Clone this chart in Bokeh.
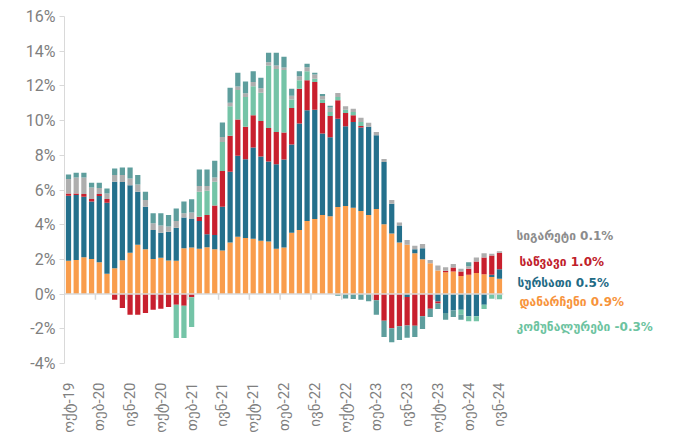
import math
from bokeh.plotting import figure
from bokeh.models import ColumnDataSource, FixedTicker, Range1d
from bokeh.core.properties import value
from bokeh.embed import file_html
from bokeh.resources import INLINE

# ---------------- data (percentage-point contributions) ----------------
month_names = ["იან", "თებ", "მარ", "აპრ", "მაი", "ივნ", "ივლ", "აგვ", "სექ", "ოქტ", "ნოე", "დეკ"]
start_year, start_month = 2019, 10
n_months = 57

others = [1.92, 1.97, 2.13, 2.03, 1.84, 1.17, 1.49, 1.95, 2.38, 2.84, 2.59, 2.03, 2.09, 1.93, 1.92,
          2.64, 2.68, 2.61, 2.70, 2.59, 2.51, 2.97, 3.31, 3.24, 3.19, 3.07, 3.03, 2.61, 2.68, 3.54,
          3.70, 4.21, 4.33, 4.56, 4.48, 5.02, 5.08, 4.98, 4.79, 4.56, 4.90, 4.02, 3.49, 2.97, 2.84,
          2.36, 2.01, 1.78, 1.36, 1.26, 1.30, 1.05, 1.11, 1.21, 1.15, 0.98, 0.88]
food = [3.75, 3.74, 3.48, 3.31, 3.81, 4.10, 4.99, 4.51, 3.90, 3.06, 2.45, 1.67, 1.45, 1.67, 1.91,
        1.77, 1.65, 1.60, 0.75, 0.82, 2.53, 4.08, 4.66, 4.53, 5.26, 4.86, 4.61, 4.88, 5.08, 5.08,
        6.13, 6.38, 6.30, 4.69, 4.56, 5.09, 4.59, 4.94, 4.81, 5.08, 4.26, 3.60, 1.72, 0.98, -0.17,
        0.23, 0.63, 0.00, -0.42, -1.09, -0.94, -0.90, -1.28, -1.28, -0.61, 0.13, 0.55]
fuel = [0.13, 0.09, 0.16, 0.14, 0.12, 0.21, -0.33, -0.80, -1.19, -1.19, -1.09, -0.90, -0.84, -0.75, -0.61,
        -0.67, -0.18, 0.25, 1.11, 1.69, 2.05, 2.07, 2.09, 1.87, 1.86, 2.04, 1.94, 1.86, 1.55, 2.11,
        2.01, 1.73, 1.59, 1.77, 1.23, 1.06, 0.77, 0.39, 0.09, 0.00, -0.36, -1.53, -1.97, -1.86, -1.64,
        -1.82, -1.28, -0.84, -0.12, 0.08, 0.23, 0.25, 0.35, 0.67, 0.96, 1.11, 0.95]
utilities = [0.00, 0.00, 0.00, 0.00, 0.00, 0.00, 0.00, 0.00, 0.00, 0.00, 0.00, 0.00, 0.00, 0.00, -1.92,
             -1.86, -1.72, 1.44, 1.40, 1.38, 1.68, 1.70, 1.70, 1.72, 1.67, 1.64, 3.60, 3.62, 3.60, 0.48,
             0.48, 0.52, 0.19, 0.19, 0.23, 0.19, 0.19, 0.19, 0.23, 0.00, 0.00, 0.00, 0.00, 0.00, 0.00,
             0.00, 0.00, 0.00, 0.00, 0.00, 0.00, -0.29, -0.29, -0.29, -0.25, -0.27, -0.30]
cigarettes = [0.83, 0.92, 0.95, 0.67, 0.34, 0.32, 0.38, 0.40, 0.39, 0.42, 0.38, 0.38, 0.41, 0.29, 0.38,
              0.25, 0.38, 0.33, 0.27, 0.24, 0.29, 0.21, 0.21, 0.21, 0.24, 0.25, 0.19, 0.21, 0.15, 0.22,
              0.23, 0.24, 0.25, 0.21, 0.25, 0.23, 0.19, 0.19, 0.25, 0.23, 0.19, 0.16, 0.21, 0.17, 0.28,
              0.19, 0.25, 0.19, 0.29, 0.21, 0.21, 0.16, 0.14, 0.23, 0.25, 0.10, 0.09]
other_items = [0.27, 0.27, 0.27, 0.27, 0.31, 0.29, 0.38, 0.44, 0.63, 0.54, 0.48, 0.58, 0.71, 0.67, 0.73,
               0.68, 0.75, 0.95, 0.95, 0.96, 0.83, 0.87, 0.79, 0.69, 0.62, 0.61, 0.54, 0.73, 0.62, 0.41,
               0.29, 0.20, 0.10, 0.12, 0.11, -0.10, -0.25, -0.28, -0.33, -0.41, -0.83, -0.94, -0.80, -0.79, -0.70,
               -0.65, -0.73, -0.48, -0.32, -0.39, -0.38, -0.29, 0.24, 0.00, 0.00, 0.00, 0.00]

legend_names = ["სიგარეტი", "საწვავი", "სურსათი", "დანარჩენი", "კომუნალურები"]
legend_values = [0.1, 1.0, 0.5, 0.9, -0.3]

y_ticks = [-4, -2, 0, 2, 4, 6, 8, 10, 12, 14, 16]

# ---------------- styling ----------------
C_ORANGE = "#F99D4C"
C_BLUE = "#24708C"
C_RED = "#C8202E"
C_GREEN = "#74C4A7"
C_GRAY = "#AEAEAE"
C_TEAL = "#5E9E9D"

series = [(others, C_ORANGE), (food, C_BLUE), (fuel, C_RED),
          (utilities, C_GREEN), (cigarettes, C_GRAY), (other_items, C_TEAL)]

xs = list(range(1, n_months + 1))
labels = []
for i in range(n_months):
    m = (start_month - 1 + i) % 12
    y = start_year + (start_month - 1 + i) // 12
    labels.append(f"{month_names[m]}-{str(y)[2:]}")

STEP = 7.696  # px per month in the layout
p = figure(width=680, height=443, output_backend="svg", toolbar_location=None,
           x_range=Range1d(1 - 4 / STEP, 1 + (672 - 68) / STEP), y_range=Range1d(-4, 16),
           min_border_left=64, min_border_right=8, min_border_top=16, min_border_bottom=80)
p.outline_line_color = None
p.xgrid.visible = False
p.ygrid.visible = False
p.background_fill_color = "white"
p.border_fill_color = "white"

pos_base = [0.0] * n_months
neg_base = [0.0] * n_months
for vals, col in series:
    bottoms, tops = [], []
    for i, v in enumerate(vals):
        if v >= 0:
            bottoms.append(pos_base[i]); tops.append(pos_base[i] + v); pos_base[i] += v
        else:
            bottoms.append(neg_base[i] + v); tops.append(neg_base[i]); neg_base[i] += v
    src = ColumnDataSource(dict(x=xs, bottom=bottoms, top=tops))
    p.vbar(x="x", bottom="bottom", top="top", width=0.68, source=src,
           fill_color=col, line_color=None)

# zero axis line and category tick marks
p.segment(x0=[0.5], y0=[0], x1=[n_months + 0.5], y1=[0], line_color="#D9D9D9", line_width=1.5)
tick_x = [k + 0.5 for k in range(4, n_months, 4)]
p.segment(x0=tick_x, y0=[0] * len(tick_x), x1=tick_x, y1=[-0.33] * len(tick_x),
          line_color="#D9D9D9", line_width=1.5)

# x axis (labels only)
xa = p.xaxis[0]
xa.ticker = FixedTicker(ticks=xs[::4])
xa.major_label_overrides = {x: labels[x - 1] for x in xs[::4]}
xa.major_label_orientation = math.pi / 2
xa.axis_line_color = None
xa.major_tick_line_color = None
xa.minor_tick_line_color = None
xa.major_label_standoff = 13
xa.major_label_text_font = "Roboto, DejaVu Sans"
xa.major_label_text_font_size = "15px"
xa.major_label_text_color = "#7F7F7F"

# y axis
ya = p.yaxis[0]
ya.ticker = FixedTicker(ticks=y_ticks)
ya.major_label_overrides = {t: f"{t}%" for t in y_ticks}
ya.axis_line_color = "#D9D9D9"
ya.major_tick_line_color = "#D9D9D9"
ya.major_tick_in = 0
ya.major_tick_out = 5
ya.minor_tick_line_color = None
ya.major_label_standoff = 4
ya.major_label_text_font = "Roboto"
ya.major_label_text_font_size = "16px"
ya.major_label_text_color = "#7F7F7F"

# legend-like annotations (screen layout positions converted to data space)
lab_px = [516, 519, 517, 519, 516]
lab_py = [235, 261, 282, 301, 326]
lab_colors = ["#8C8C8C", "#C0202A", "#1F6B85", "#F7943C", "#6CC3A0"]
for name, v, px, py, c in zip(legend_names, legend_values, lab_px, lab_py, lab_colors):
    lx = 1 + (px - 68) / STEP
    ly = 16 - (py - 16) * 20 / 347
    p.text(x=[lx], y=[ly], text=[f"{name} {v:.1f}%"], text_color=c,
           text_font=value("DejaVu Sans"), text_font_style="bold", text_font_size="12px",
           text_baseline="middle", text_align="left")

open("out.html", "w").write(file_html(p, INLINE))
